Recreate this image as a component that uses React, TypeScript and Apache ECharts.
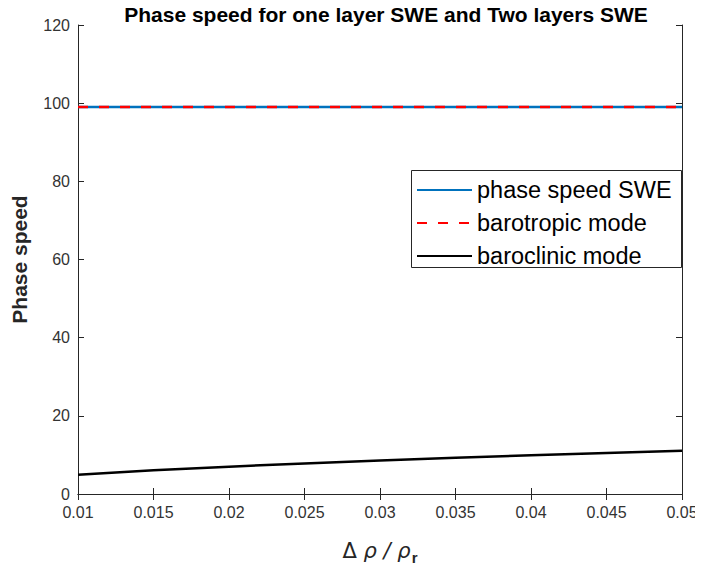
import React, { useEffect, useRef } from "react";
import * as echarts from "echarts";

// Density ratio Δρ/ρr sampled along the x axis
const ratio = [0.01, 0.015, 0.02, 0.025, 0.03, 0.035, 0.04, 0.045, 0.05];
// One-layer shallow-water phase speed (m/s)
const sweSpeed = [99.05, 99.05, 99.05, 99.05, 99.05, 99.05, 99.05, 99.05, 99.05];
// Two-layer barotropic mode
const barotropic = [99.05, 99.05, 99.05, 99.05, 99.05, 99.05, 99.05, 99.05, 99.05];
// Two-layer baroclinic mode
const baroclinic = [4.95, 6.07, 7.0, 7.83, 8.58, 9.26, 9.9, 10.5, 11.07];

const seriesNames = ["phase speed SWE", "barotropic mode", "baroclinic mode"];

const FONT = "'Liberation Sans', Arial, Helvetica, sans-serif";
const AXIS_COLOR = "#262626";

const pairs = (ys: number[]) => ratio.map((x, i) => [x, ys[i]]);

export default function App() {
  const ref = useRef<HTMLDivElement>(null);

  useEffect(() => {
    if (!ref.current) return;
    const chart = echarts.init(ref.current, undefined, { renderer: "svg" });

    const tickStyle = {
      show: true,
      inside: true,
      length: 6,
      lineStyle: { color: AXIS_COLOR, width: 1 },
    };
    const lineStyle = { show: true, lineStyle: { color: AXIS_COLOR, width: 1 } };
    const labelStyle = { color: "#333", fontSize: 16, fontFamily: FONT };

    chart.setOption({
      animation: false,
      backgroundColor: "#fff",
      title: {
        text: "Phase speed for one layer SWE and Two layers SWE",
        left: 381,
        textAlign: "center",
        top: -1,
        textStyle: { fontSize: 21, fontWeight: "bold", color: "#000", fontFamily: FONT },
      },
      grid: { left: 78, right: 21, top: 25, bottom: 77, containLabel: false },
      xAxis: [
        {
          type: "value",
          min: 0.01,
          max: 0.05,
          interval: 0.005,
          position: "bottom",
          axisLine: lineStyle,
          axisTick: tickStyle,
          splitLine: { show: false },
          axisLabel: { ...labelStyle, margin: 10, formatter: (v: number) => String(+v.toFixed(3)) },
          name: "{d|Δ}  {p|ρ / ρ}{s|r}",
          nameLocation: "middle",
          nameGap: 42,
          nameTextStyle: {
            fontFamily: FONT,
            color: "#262626",
            rich: {
              d: { fontSize: 21, fontFamily: "'DejaVu Sans', sans-serif", color: "#262626" },
              p: { fontSize: 21, fontStyle: "italic", fontFamily: "'DejaVu Sans', sans-serif", color: "#262626" },
              s: { fontSize: 15, fontWeight: "bold", fontFamily: FONT, color: "#262626", padding: [14, 0, 0, 1] },
            },
          },
        },
        {
          type: "value",
          min: 0.01,
          max: 0.05,
          interval: 0.005,
          position: "top",
          axisLine: lineStyle,
          axisTick: tickStyle,
          axisLabel: { show: false },
          splitLine: { show: false },
        },
      ],
      yAxis: [
        {
          type: "value",
          min: 0,
          max: 120,
          interval: 20,
          position: "left",
          axisLine: lineStyle,
          axisTick: tickStyle,
          splitLine: { show: false },
          axisLabel: { ...labelStyle, margin: 8 },
          name: "Phase speed",
          nameLocation: "middle",
          nameGap: 48,
          nameTextStyle: { fontSize: 21, fontWeight: "bold", color: "#262626", fontFamily: FONT },
        },
        {
          type: "value",
          min: 0,
          max: 120,
          interval: 20,
          position: "right",
          axisLine: lineStyle,
          axisTick: tickStyle,
          axisLabel: { show: false },
          splitLine: { show: false },
        },
      ],
      legend: {
        data: seriesNames,
        orient: "vertical",
        left: 416,
        top: 178,
        padding: 0,
        itemWidth: 55,
        itemHeight: 22,
        itemGap: 9,
        itemStyle: { opacity: 0 },
        textStyle: { fontSize: 23.5, color: "#000", fontFamily: FONT },
        z: 10,
      },
      graphic: [
        {
          type: "rect",
          shape: { x: 411.5, y: 170.5, width: 270, height: 97 },
          style: { fill: "#fff", stroke: AXIS_COLOR, lineWidth: 1 },
          z: 5,
        },
      ],
      series: [
        {
          name: seriesNames[0],
          type: "line",
          data: pairs(sweSpeed),
          showSymbol: false,
          symbol: "none",
          lineStyle: { color: "#0072BD", width: 2.5 },
          itemStyle: { color: "#0072BD" },
          z: 2,
        },
        {
          name: seriesNames[1],
          type: "line",
          data: pairs(barotropic),
          showSymbol: false,
          symbol: "none",
          lineStyle: { color: "#FF0000", width: 2.5, type: [10, 11] },
          itemStyle: { color: "#FF0000" },
          z: 3,
        },
        {
          name: seriesNames[2],
          type: "line",
          data: pairs(baroclinic),
          showSymbol: false,
          symbol: "none",
          lineStyle: { color: "#000", width: 2.5 },
          itemStyle: { color: "#000" },
          z: 3,
        },
      ],
    });

    return () => chart.dispose();
  }, []);

  return <div ref={ref} style={{ width: 703, height: 571, margin: -8 }} />;
}
